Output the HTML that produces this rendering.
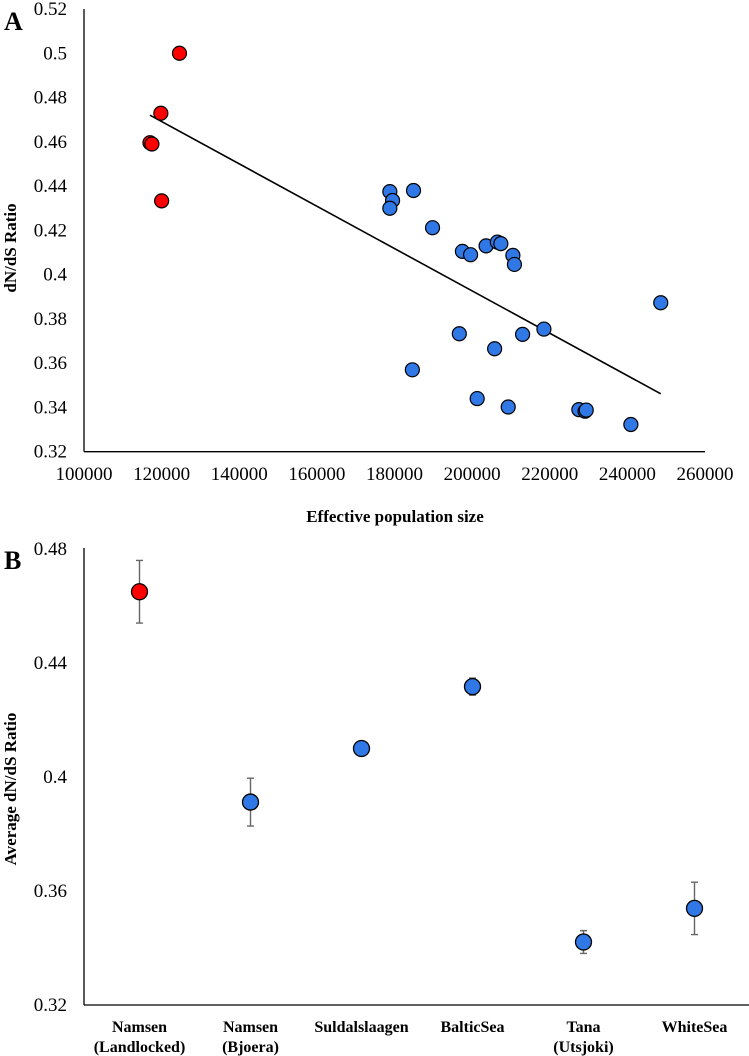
<!DOCTYPE html>
<html><head><meta charset="utf-8">
<style>
html,body{margin:0;padding:0;background:#fff;overflow:hidden;}
svg{display:block;font-family:"Liberation Serif",serif;}
</style></head>
<body>
<svg id="chart" width="749" height="1056" xmlns="http://www.w3.org/2000/svg"></svg>
<script>
// Panel A data
const aRedX = [124600, 119800, 117000, 117500, 120000];
const aRedY = [0.500, 0.4729, 0.4596, 0.459, 0.4333];
const aBlueX = [178800,179500,178800,184900,189800,197500,199600,203600,206500,207400,210500,210900,248600,196700,213000,218500,205800,184600,201300,209300,227500,229100,229400,240900];
const aBlueY = [0.4375,0.4335,0.430,0.4380,0.4212,0.4105,0.4090,0.4130,0.4147,0.4140,0.4087,0.4046,0.3873,0.3733,0.3730,0.3754,0.3665,0.3570,0.3440,0.3402,0.3390,0.3383,0.3388,0.3323];
const aXTicks = [100000,120000,140000,160000,180000,200000,220000,240000,260000];
const aYTicks = [0.32,0.34,0.36,0.38,0.40,0.42,0.44,0.46,0.48,0.50,0.52];
const aYLabels = ["0.32","0.34","0.36","0.38","0.4","0.42","0.44","0.46","0.48","0.5","0.52"];
// Panel B data
const bCats = [["Namsen","(Landlocked)"],["Namsen","(Bjoera)"],["Suldalslaagen"],["BalticSea"],["Tana","(Utsjoki)"],["WhiteSea"]];
const bVals = [0.4650, 0.3912, 0.4100, 0.4317, 0.3421, 0.3539];
const bErr = [0.0110, 0.0084, 0.0000, 0.0030, 0.0040, 0.0092];
const bColors = ["#ff0000","#2f78e6","#2f78e6","#2f78e6","#2f78e6","#2f78e6"];
const bYTicks = [0.32,0.36,0.40,0.44,0.48];
const bYLabels = ["0.32","0.36","0.4","0.44","0.48"];

const svg = document.getElementById('chart');
const NS = "http://www.w3.org/2000/svg";
function mk(tag, attrs, parent){
  const e = document.createElementNS(NS, tag);
  for (const k in attrs) e.setAttribute(k, attrs[k]);
  (parent||svg).appendChild(e);
  return e;
}
// ---- Panel A ----
const ax = v => 84 + (v-100000)/160000*621;
const ay = v => 451.7 - (v-0.32)/0.2*442.7;
const gA = mk('g', {});


let l = mk('line', {x1:84,y1:9,x2:84,y2:451.7,stroke:'#000','stroke-width':1.3}, gA);
 
l = mk('line', {x1:84,y1:451.7,x2:705,y2:451.7,stroke:'#000','stroke-width':1.3}, gA);
 
aYTicks.forEach((v,i)=>{
  const t = mk('text', {x:67,y:ay(v)+6,'text-anchor':'end','font-size':19}, gA);
  t.textContent = aYLabels[i];
  
  
});
aXTicks.forEach(v=>{
  const t = mk('text', {x:ax(v),y:480,'text-anchor':'middle','font-size':19}, gA);
  t.textContent = String(v);
  
  
});
// regression
const allX = aRedX.concat(aBlueX), allY = aRedY.concat(aBlueY);
const n = allX.length;
const mx = allX.reduce((a,b)=>a+b)/n, my = allY.reduce((a,b)=>a+b)/n;
let sxy=0,sxx=0; for(let i=0;i<n;i++){sxy+=(allX[i]-mx)*(allY[i]-my);sxx+=(allX[i]-mx)**2;}
const slope = sxy/sxx, icpt = my - slope*mx;
const x0 = Math.min(...allX), x1 = Math.max(...allX);
l = mk('line', {x1:ax(x0),y1:ay(icpt+slope*x0),x2:ax(x1),y2:ay(icpt+slope*x1),stroke:'#000','stroke-width':1.6}, gA);
 
aBlueX.forEach((x,i)=>{
  const c = mk('circle', {cx:ax(x),cy:ay(aBlueY[i]),r:7,fill:'#2f78e6',stroke:'#000','stroke-width':1.2}, gA);
  
  
});
aRedX.forEach((x,i)=>{
  const c = mk('circle', {cx:ax(x),cy:ay(aRedY[i]),r:7,fill:'#ff0000',stroke:'#000','stroke-width':1.2}, gA);
  
  
});
let t = mk('text', {x:4,y:30,'font-size':26,'font-weight':'bold'}, gA); t.textContent='A';
 
t = mk('text', {x:0,y:0,'font-size':17,'font-weight':'bold','text-anchor':'middle',transform:'translate(16,248) rotate(-90)'}, gA); t.textContent='dN/dS Ratio';
 
t = mk('text', {x:395,y:522,'font-size':17,'font-weight':'bold','text-anchor':'middle'}, gA); t.textContent='Effective population size';
 

// ---- Panel B ----
const bx = i => 84 + 55.5 + i*111;
const by = v => 1005 - (v-0.32)/0.16*456;
const gB = mk('g', {});


l = mk('line', {x1:84,y1:548,x2:84,y2:1005,stroke:'#000','stroke-width':1.3}, gB);
 
l = mk('line', {x1:84,y1:1005,x2:749,y2:1005,stroke:'#000','stroke-width':1.3}, gB);
 
bYTicks.forEach((v,i)=>{
  const tt = mk('text', {x:67,y:by(v)+6,'text-anchor':'end','font-size':19}, gB);
  tt.textContent = bYLabels[i];
  
  
});
bCats.forEach((lines,i)=>{
  lines.forEach((s,j)=>{
    const tt = mk('text', {x:bx(i),y:1032+j*20,'text-anchor':'middle','font-size':16,'font-weight':'bold'}, gB);
    tt.textContent = s;
    
    
  });
});
bVals.forEach((v,i)=>{
  const x = bx(i);
  if (bErr[i] > 0) {
    const e = mk('path', {d:`M${x},${by(v+bErr[i])}V${by(v-bErr[i])}M${x-3.5},${by(v+bErr[i])}h7M${x-3.5},${by(v-bErr[i])}h7`,stroke:'#666','stroke-width':1.4,fill:'none'}, gB);
    
    
  }
  const c = mk('circle', {cx:x,cy:by(v),r:8,fill:bColors[i],stroke:'#000','stroke-width':1.3}, gB);
  
  
});
t = mk('text', {x:4,y:569,'font-size':26,'font-weight':'bold'}, gB); t.textContent='B';
 
t = mk('text', {x:0,y:0,'font-size':17,'font-weight':'bold','text-anchor':'middle',transform:'translate(16,789) rotate(-90)'}, gB); t.textContent='Average dN/dS Ratio';
 
</script>
</body></html>
